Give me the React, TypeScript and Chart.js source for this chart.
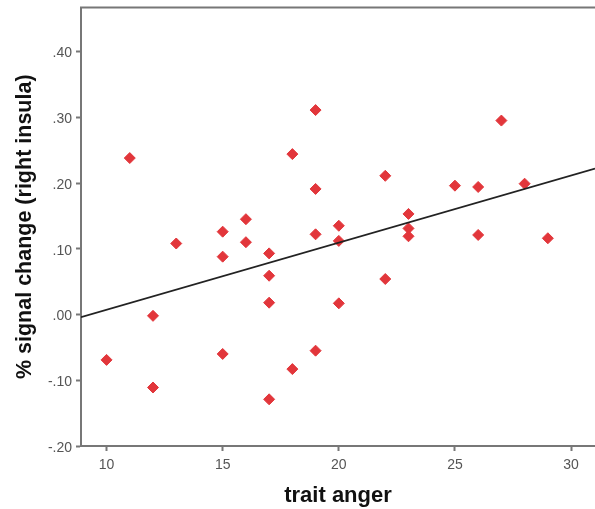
import React, { useEffect, useRef } from "react";
import { Chart, registerables } from "chart.js";

Chart.register(...registerables);

// trait anger (x) vs % signal change in right insula (y)
const traitAnger = [10, 11, 12, 12, 13, 15, 15, 15, 16, 16, 17, 17, 17, 17, 18, 18, 19, 19, 19, 19, 20, 20, 20, 22, 22, 23, 23, 23, 25, 26, 26, 27, 28, 29];
const signalChange = [-0.069, 0.238, -0.002, -0.111, 0.108, 0.126, 0.088, -0.060, 0.145, 0.110, 0.093, 0.059, 0.018, -0.129, 0.244, -0.083, 0.311, 0.191, 0.122, -0.055, 0.135, 0.112, 0.017, 0.211, 0.054, 0.153, 0.131, 0.119, 0.196, 0.194, 0.121, 0.295, 0.199, 0.116];

// fitted regression line end points
const fitX = [8.9, 31.03];
const fitY = [-0.004, 0.222];

const xTicks = [10, 15, 20, 25, 30];
const yTicks = [-0.2, -0.1, 0, 0.1, 0.2, 0.3, 0.4];

const FONT = "'Liberation Sans', Arial, sans-serif";

const fmtY = (v: number) => v.toFixed(2).replace(/^(-?)0\./, "$1.");

const topLinePlugin = {
  id: "topLine",
  afterDraw(chart: any) {
    const { ctx, chartArea } = chart;
    ctx.save();
    ctx.strokeStyle = "#777777";
    ctx.lineWidth = 2;
    ctx.beginPath();
    ctx.moveTo(chartArea.left - 1, chartArea.top);
    ctx.lineTo(chart.width, chartArea.top);
    ctx.stroke();
    ctx.restore();
  },
};

export default function App() {
  const ref = useRef<HTMLCanvasElement | null>(null);

  useEffect(() => {
    if (!ref.current) return;
    const chart = new Chart(ref.current, {
      type: "scatter",
      data: {
        datasets: [
          {
            type: "line",
            data: fitX.map((x, i) => ({ x, y: fitY[i] })),
            borderColor: "#222222",
            borderWidth: 1.6,
            pointRadius: 0,
            fill: false,
          } as any,
          {
            data: traitAnger.map((x, i) => ({ x, y: signalChange[i] })),
            pointStyle: "rectRot",
            pointRadius: 5.5,
            backgroundColor: "#e2363b",
            borderColor: "#e2363b",
            borderWidth: 1,
          },
        ],
      },
      options: {
        responsive: false,
        animation: false,
        layout: { autoPadding: false, padding: { top: 7.5, right: 0, left: 0, bottom: 0 } },
        plugins: { legend: { display: false }, tooltip: { enabled: false } },
        scales: {
          x: {
            type: "linear",
            min: 8.9,
            max: 31.03,
            afterBuildTicks: (s: any) => {
              s.ticks = xTicks.map((v) => ({ value: v }));
            },
            afterFit: (s: any) => {
              s.height = 63;
              s.paddingRight = 0;
              s.paddingLeft = 0;
            },
            border: { display: true, color: "#777777", width: 2 },
            grid: { drawOnChartArea: false, drawTicks: true, tickLength: 5, tickColor: "#777777", tickWidth: 2 },
            ticks: { color: "#555555", font: { family: FONT, size: 14 }, padding: 6, maxRotation: 0 },
            title: {
              display: true,
              text: "trait anger",
              color: "#111111",
              font: { family: FONT, size: 22, weight: "bold" },
              padding: { top: 0, bottom: 0 },
            },
          },
          y: {
            type: "linear",
            min: -0.2,
            max: 0.467,
            afterBuildTicks: (s: any) => {
              s.ticks = yTicks.map((v) => ({ value: v }));
            },
            afterFit: (s: any) => {
              s.width = 81;
              s.paddingTop = 0;
              s.paddingBottom = 0;
            },
            border: { display: true, color: "#777777", width: 2 },
            grid: { drawOnChartArea: false, drawTicks: true, tickLength: 5, tickColor: "#777777", tickWidth: 2 },
            ticks: {
              color: "#555555",
              font: { family: FONT, size: 14 },
              padding: 4,
              labelOffset: 2,
              callback: (v: any) => fmtY(Number(v)),
            },
            title: {
              display: true,
              text: "% signal change (right insula)",
              color: "#111111",
              font: { family: FONT, size: 21.5, weight: "bold" },
              padding: { top: 12, bottom: 0 },
            },
          },
        },
      },
      plugins: [topLinePlugin],
    });
    return () => chart.destroy();
  }, []);

  return (
    <div style={{ position: "fixed", left: 0, top: 0, width: 595, height: 509, background: "#ffffff" }}>
      <canvas ref={ref} width={595} height={509} style={{ width: 595, height: 509, display: "block" }} />
    </div>
  );
}
